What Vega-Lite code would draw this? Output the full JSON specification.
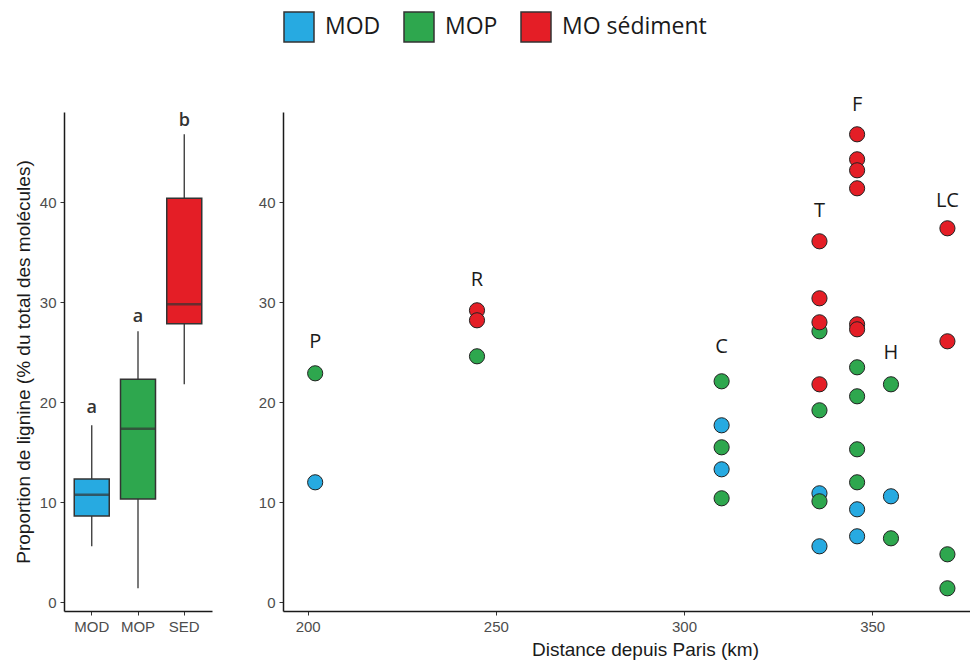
{
  "$schema": "https://vega.github.io/schema/vega-lite/v6.json",
  "padding": {"left": 14, "top": 11, "right": 0, "bottom": 4},
  "background": "white",
  "spacing": 46,
  "datasets": {
    "pts": [
      {"site": "P", "dist": 202, "value": 12.0, "type": "MOD", "code": "MOD"},
      {"site": "C", "dist": 310, "value": 17.7, "type": "MOD", "code": "MOD"},
      {"site": "C", "dist": 310, "value": 13.3, "type": "MOD", "code": "MOD"},
      {"site": "T", "dist": 336, "value": 10.9, "type": "MOD", "code": "MOD"},
      {"site": "T", "dist": 336, "value": 5.6, "type": "MOD", "code": "MOD"},
      {"site": "F", "dist": 346, "value": 9.3, "type": "MOD", "code": "MOD"},
      {"site": "F", "dist": 346, "value": 6.6, "type": "MOD", "code": "MOD"},
      {"site": "H", "dist": 355, "value": 10.6, "type": "MOD", "code": "MOD"},
      {"site": "P", "dist": 202, "value": 22.9, "type": "MOP", "code": "MOP"},
      {"site": "R", "dist": 245, "value": 24.6, "type": "MOP", "code": "MOP"},
      {"site": "C", "dist": 310, "value": 22.1, "type": "MOP", "code": "MOP"},
      {"site": "C", "dist": 310, "value": 15.5, "type": "MOP", "code": "MOP"},
      {"site": "C", "dist": 310, "value": 10.4, "type": "MOP", "code": "MOP"},
      {"site": "T", "dist": 336, "value": 27.1, "type": "MOP", "code": "MOP"},
      {"site": "T", "dist": 336, "value": 19.2, "type": "MOP", "code": "MOP"},
      {"site": "T", "dist": 336, "value": 10.1, "type": "MOP", "code": "MOP"},
      {"site": "F", "dist": 346, "value": 23.5, "type": "MOP", "code": "MOP"},
      {"site": "F", "dist": 346, "value": 20.6, "type": "MOP", "code": "MOP"},
      {"site": "F", "dist": 346, "value": 15.3, "type": "MOP", "code": "MOP"},
      {"site": "F", "dist": 346, "value": 12.0, "type": "MOP", "code": "MOP"},
      {"site": "H", "dist": 355, "value": 21.8, "type": "MOP", "code": "MOP"},
      {"site": "H", "dist": 355, "value": 6.4, "type": "MOP", "code": "MOP"},
      {"site": "LC", "dist": 370, "value": 4.8, "type": "MOP", "code": "MOP"},
      {"site": "LC", "dist": 370, "value": 1.4, "type": "MOP", "code": "MOP"},
      {"site": "R", "dist": 245, "value": 29.2, "type": "MO sédiment", "code": "SED"},
      {"site": "R", "dist": 245, "value": 28.2, "type": "MO sédiment", "code": "SED"},
      {"site": "T", "dist": 336, "value": 36.1, "type": "MO sédiment", "code": "SED"},
      {"site": "T", "dist": 336, "value": 30.4, "type": "MO sédiment", "code": "SED"},
      {"site": "T", "dist": 336, "value": 28.0, "type": "MO sédiment", "code": "SED"},
      {"site": "T", "dist": 336, "value": 21.8, "type": "MO sédiment", "code": "SED"},
      {"site": "F", "dist": 346, "value": 46.8, "type": "MO sédiment", "code": "SED"},
      {"site": "F", "dist": 346, "value": 44.3, "type": "MO sédiment", "code": "SED"},
      {"site": "F", "dist": 346, "value": 43.2, "type": "MO sédiment", "code": "SED"},
      {"site": "F", "dist": 346, "value": 41.4, "type": "MO sédiment", "code": "SED"},
      {"site": "F", "dist": 346, "value": 27.8, "type": "MO sédiment", "code": "SED"},
      {"site": "F", "dist": 346, "value": 27.3, "type": "MO sédiment", "code": "SED"},
      {"site": "LC", "dist": 370, "value": 37.4, "type": "MO sédiment", "code": "SED"},
      {"site": "LC", "dist": 370, "value": 26.1, "type": "MO sédiment", "code": "SED"}
    ],
    "sites": [
      {"site": "P", "dist": 202, "y": 26.0},
      {"site": "R", "dist": 245, "y": 32.2},
      {"site": "C", "dist": 310, "y": 25.5},
      {"site": "T", "dist": 336, "y": 39.1},
      {"site": "F", "dist": 346, "y": 49.7},
      {"site": "H", "dist": 355, "y": 24.9},
      {"site": "LC", "dist": 370, "y": 40.1}
    ],
    "letters": [
      {"code": "MOD", "letter": "a", "y": 19.4},
      {"code": "MOP", "letter": "a", "y": 28.5},
      {"code": "SED", "letter": "b", "y": 48.1}
    ]
  },
  "hconcat": [
    {
      "width": 148,
      "height": 499,
      "layer": [
        {
          "data": {"name": "pts"},
          "mark": {
            "type": "boxplot",
            "extent": "min-max",
            "size": 35,
            "box": {"stroke": "#333333", "strokeWidth": 1.5},
            "median": {"color": "#333333", "thickness": 2.5},
            "rule": {"color": "#333333", "strokeWidth": 1.3},
            "ticks": false
          },
          "encoding": {
            "x": {
              "field": "code", "type": "nominal", "sort": ["MOD", "MOP", "SED"],
              "scale": {"paddingInner": 0, "paddingOuter": 0.1},
              "axis": {"title": null, "labelAngle": 0, "labelPadding": 4}
            },
            "y": {
              "field": "value", "type": "quantitative",
              "scale": {"domain": [-0.87, 49.03], "nice": false, "zero": false},
              "axis": {"title": "Proportion de lignine (% du total des molécules)", "values": [0, 10, 20, 30, 40], "titlePadding": 6}
            },
            "color": {
              "field": "type", "type": "nominal",
              "scale": {"domain": ["MOD", "MOP", "MO sédiment"], "range": ["#27AAE1", "#2EA74E", "#E41E26"]},
              "legend": {
                "orient": "none", "legendX": 219, "legendY": -101, "direction": "horizontal", "title": null,
                "symbolType": "square", "symbolSize": 900, "symbolStrokeColor": "#333333", "symbolStrokeWidth": 1.5,
                "symbolOpacity": 1, "labelFont": "Open Sans", "labelFontSize": 23, "labelColor": "#1a1a1a",
                "labelOffset": 10, "columnPadding": 20, "padding": 0
              }
            }
          }
        },
        {
          "data": {"name": "letters"},
          "mark": {"type": "text", "font": "Open Sans", "fontSize": 18, "fontWeight": 600, "color": "#333333", "baseline": "middle", "align": "center"},
          "encoding": {
            "x": {"field": "code", "type": "nominal", "sort": ["MOD", "MOP", "SED"]},
            "y": {"field": "y", "type": "quantitative"},
            "text": {"field": "letter"}
          }
        }
      ]
    },
    {
      "width": 687,
      "height": 499,
      "layer": [
        {
          "data": {"name": "pts"},
          "mark": {"type": "point", "filled": true, "size": 230, "stroke": "#222222", "strokeWidth": 1, "opacity": 1},
          "encoding": {
            "x": {
              "field": "dist", "type": "quantitative",
              "scale": {"domain": [193.45, 376], "nice": false, "zero": false},
              "axis": {"title": "Distance depuis Paris (km)", "values": [200, 250, 300, 350], "labelPadding": 4, "titlePadding": 6, "titleX": 362, "titleAlign": "center"}
            },
            "y": {
              "field": "value", "type": "quantitative",
              "scale": {"domain": [-0.87, 49.03], "nice": false, "zero": false},
              "axis": {"title": null, "values": [0, 10, 20, 30, 40]}
            },
            "color": {
              "field": "type", "type": "nominal",
              "scale": {"domain": ["MOD", "MOP", "MO sédiment"], "range": ["#27AAE1", "#2EA74E", "#E41E26"]},
              "legend": {
                "orient": "none", "legendX": 219, "legendY": -101, "direction": "horizontal", "title": null,
                "symbolType": "square", "symbolSize": 900, "symbolStrokeColor": "#333333", "symbolStrokeWidth": 1.5,
                "symbolOpacity": 1, "labelFont": "Open Sans", "labelFontSize": 23, "labelColor": "#1a1a1a",
                "labelOffset": 10, "columnPadding": 20, "padding": 0
              }
            }
          }
        },
        {
          "data": {"name": "sites"},
          "mark": {"type": "text", "font": "Open Sans", "fontSize": 20, "color": "#1a1a1a", "baseline": "middle", "align": "center"},
          "encoding": {
            "x": {"field": "dist", "type": "quantitative"},
            "y": {"field": "y", "type": "quantitative"},
            "text": {"field": "site"}
          }
        }
      ]
    }
  ],
  "config": {
    "view": {"stroke": null},
    "axis": {
      "grid": false,
      "domainColor": "#1a1a1a",
      "domainWidth": 1.5,
      "tickColor": "#333333",
      "tickSize": 4,
      "tickWidth": 1,
      "labelColor": "#4d4d4d",
      "labelFont": "Liberation Sans",
      "labelFontSize": 15,
      "labelPadding": 4,
      "titleFont": "Liberation Sans",
      "titleFontSize": 19,
      "titleFontWeight": "normal",
      "titleColor": "#1a1a1a"
    }
  }
}
